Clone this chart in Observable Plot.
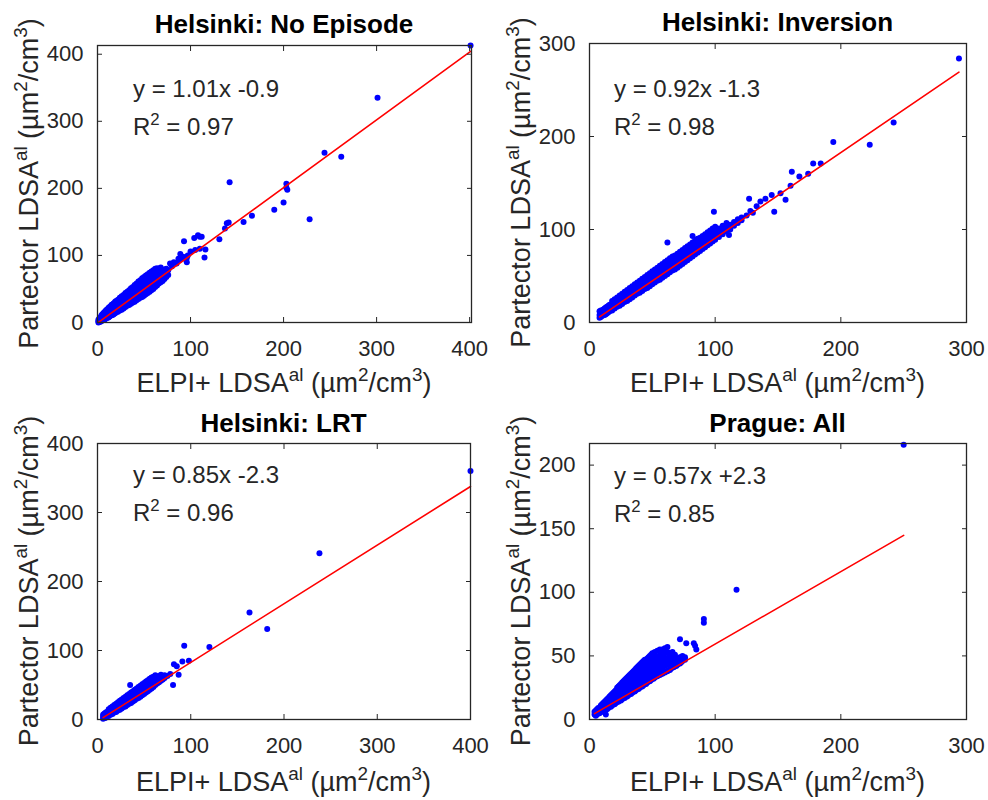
<!DOCTYPE html>
<html><head><meta charset="utf-8">
<script src="https://cdn.jsdelivr.net/npm/d3@7"></script>
<script src="https://cdn.jsdelivr.net/npm/@observablehq/plot@0.6"></script>
<style>
body{margin:0;background:#fff;}
#root{position:relative;width:988px;height:800px;background:#fff;}
.panel{position:absolute;width:494px;height:400px;}
</style></head><body><div id="root"></div>
<script>
// ---------- data ----------
const titles = ["Helsinki: No Episode", "Helsinki: Inversion", "Helsinki: LRT", "Prague: All"];
const fitLabels = ["y = 1.01x -0.9", "y = 0.92x -1.3", "y = 0.85x -2.3", "y = 0.57x +2.3"];
const r2Values = ["0.97", "0.98", "0.96", "0.85"];
const slopes = [1.01, 0.92, 0.85, 0.57];
const intercepts = [-0.9, -1.3, -2.3, 2.3];
const xDomains = [[0, 402], [0, 300], [0, 400], [0, 300]];
const yDomains = [[0, 413], [0, 300], [0, 400], [0, 217]];
const xTicks = [[0, 100, 200, 300, 400], [0, 100, 200, 300], [0, 100, 200, 300, 400], [0, 100, 200, 300]];
const yTicks = [[0, 100, 200, 300, 400], [0, 100, 200, 300], [0, 100, 200, 300, 400], [0, 50, 100, 150, 200]];
const xLabel = "ELPI+ LDSA^{al} (µm^{2}/cm^{3})";
const yLabel = "Partector LDSA^{al} (µm^{2}/cm^{3})";

// rows: [x, y1, y2, ...]  (dense cloud)
const noEpisodeCloud = [
[1,0,2,4],[2,1,3,6],[3,1,4,7],[4,2,5,8,10],[5,3,6,9,12],[6,4,7,10,13],[7,4,8,11,15],[8,5,9,12,16],
[9,6,10,14,18],[10,7,11,15,19],[11,7,12,16,20],[12,8,13,17,22],[13,9,14,18,23],[14,10,15,19,24],
[15,11,16,21,26],[16,11,17,22,27],[17,12,18,23,28],[18,13,19,24,29],[19,14,20,25,31],[20,15,21,26,32],
[21,18,24,30],[22,16,23,29,34],[23,20,27,33],[24,18,25,31,37],[25,22,29,36],[26,19,27,33,39],
[27,24,32,38],[28,21,29,35,41],[29,26,34,41],[30,23,31,37,44],[31,28,36,43],[32,25,33,39,46],
[33,30,38,46],[34,26,35,42,48],[35,32,40,48],[36,28,37,44,51],[37,34,42,50],[38,30,39,46,53],
[39,36,44,52],[40,31,41,48,56],[41,37,46,54],[42,33,43,51,58],[43,39,48,57],[44,35,45,53,61],
[45,41,50,59],[46,37,47,55,63],[47,43,52,62],[48,38,49,57,66],[49,45,55,64],[50,40,51,60,68],
[51,47,57,66],[52,42,53,62,70],[53,49,59,68],[54,44,55,64,72],[55,51,61,70],[56,46,57,66,74],
[57,53,63,72],[58,48,59,68,76],[59,55,65,74],[60,50,61,70,78],[61,57,67,76],[62,53,63,72,80],
[63,60,69,78],[64,55,65,73,81],[65,62,71],[66,58,67,75,80],[67,64,73,79],[68,60,69,77,82],
[69,66,75],[70,62,71,78],[71,68,76],[72,65,73,79],[73,70,77],[74,68,75,80],[76,71,78]
];
const noEpisodeOutliers = [
[78,88],[80,84],[82,90],[85,88],[87,95],[88,93],[89,102],[90,95],[92,98],[94,95],[96,90],[96,96],[97,100],
[100,106],[105,108],[110,110],[93,121],[104,126],[108,130],[110,128],[112,128],[116,109],[115,97],
[131,124],[137,140],[139,148],[141,149],[142,209],[157,150],[166,159],[190,168],[200,179],
[203,207],[203,201],[204,198],[228,154],[244,253],[262,247],[301,335],[401,413]
];

const inversionCloud = [
[8,5,8,12],[9,6,9,13],[10,7,10,13],[11,8,11,14],[12,8,11,15],[13,9,12,16],[14,10,13,17],[15,11,14,18],
[16,12,15,19],[18,13,16,20,23],[20,15,18,21,25],[22,17,20,23,27],[24,18,22,25,29],[26,20,23,27,31],
[28,22,25,29,33],[30,23,27,31,35],[32,25,29,33,37],[34,27,31,35,39],[36,29,33,37,41],[38,31,34,38,43],
[40,32,36,40,45],[42,34,38,42,47],[44,36,40,44,49],[46,37,42,46,51],[48,39,43,48,53],[50,41,45,50,55],
[52,43,47,52,57],[54,45,49,54,59],[56,46,51,56,61],[58,48,53,58,63],[60,50,55,60,65],[62,52,57,62,67],
[64,54,58,63,69],[66,56,60,65,71],[68,57,62,67,72],[70,59,64,69,74],[72,61,66,71,76],[74,63,68,73,78],
[76,65,70,75,80],[78,67,71,76,82],[80,69,73,78,84],[82,71,75,80,86],[84,73,77,82,88],[86,75,79,84,90],
[88,77,81,86,91],[90,79,83,88,93],[92,81,85,90,95],[94,83,87,92,97],[96,85,89,94,99],[98,87,91,96,101],
[100,89,93,98,103],[103,92,96,101],[106,95,99,104],[109,98,102,107],[112,100,105],[115,104,108],
[118,107,111],[121,110,113]
];
const inversionOutliers = [
[62,86],[82,93],[99,119],[111,94],[125,115],[128,120],[130,118],[133,125],[127,133],[136,130],
[140,133],[145,137],[147,119],[152,139],[156,132],[160,147],[161,162],[167,157],[174,160],
[178,171],[184,171],[194,194],[223,191],[242,215],[294,284]
];

const lrtCloud = [
[6,1,4,7],[7,2,5,8],[8,2,5,9],[9,3,6,10],[10,4,7,11],[12,5,8,12,15],[14,7,10,14,17],[16,8,12,16,19],
[18,10,13,17,21],[20,11,15,19,23],[22,13,17,21,25],[24,14,18,22,27],[26,16,20,24,29],[28,18,22,26,31],
[30,19,23,28,33],[32,21,25,30,35],[34,23,27,31,37],[35,50],[36,24,28,33,39],[38,26,30,35,41],
[40,28,32,37,43],[42,30,34,39,45],[44,31,36,41,47],[46,33,38,43,49],[48,35,40,45,51],[50,37,42,47,53],
[52,39,44,49,55],[54,41,46,51,57],[56,43,48,53,59],[58,45,50,55,61],[60,47,52,57,62],[62,50,54,59,64],
[64,52,56,61],[66,54,58,63],[68,56,60,65],[70,58,62],[72,60,64]
];
const lrtOutliers = [
[75,63],[78,66],[81,50],[87,65],[82,80],[85,77],[91,84],[98,85],[93,107],[120,105],
[163,155],[182,131],[238,241],[400,360]
];

const pragueCloud = [
[4,4,6],[5,3,5,7],[6,4,6,8],[7,5,7,9],[8,5,7,9],[9,6,8,10,11],[10,6,8,10,12],[11,7,9,11,13],[12,7,9,11,14],
[13,4,8,10,12,15],[14,8,10,13,16],[15,9,11,14,17],[16,10,12,15,18],[17,10,13,16,19],[18,11,14,17,20],
[19,12,15,18,21],[20,12,15,18,22],[21,13,16,19,23],[22,14,17,20,23,25],[23,14,17,20,23,26],[24,15,18,21,24,27],
[25,15,18,21,25,28],[26,16,19,22,26,29],[27,17,20,23,27,30],[28,17,20,24,28,31],[29,18,21,25,29,32],[30,18,22,26,30,33],
[31,19,23,27,31,34],[32,20,24,28,32,35],[33,20,24,28,32,36],[34,21,25,29,33,37],[35,22,26,30,34,38],[36,22,27,31,35,39],
[37,23,27,31,36,40],[38,24,28,32,37,41],[39,24,29,33,38,42],[40,25,29,34,38,43],[41,26,30,35,39,44],[42,26,31,35,40,45],
[43,27,32,36,41,46],[44,28,32,37,42,47],[45,28,33,38,43,44],[46,29,34,38,43,48],[47,30,34,39,44,49],[48,30,35,40,45,50],
[49,31,36,41,46,51],[50,32,36,41,46,52],[51,32,37,42,47,52],[52,33,38,43,48,53],[53,34,38,44,49],[54,34,39,44,49,54],
[55,35,40,45,50],[56,35,40,45,50,55],[57,36,41,46,51],[58,36,41,46,51,55],[59,37,42,47,52],[60,37,42,47,52,56],
[61,38,43,48,53],[62,38,43,48,53,57],[63,39,44,49],[64,39,44,49,52],[65,40,45,50],[66,41,45,50,53],[67,41,46,50],
[68,42,46,51],[69,42,47],[70,43,48],[71,44,48],[72,44,49],[73,45,49],[74,46,50],[76,47,49]
];
const pragueOutliers = [
[72,63],[77,60],[83,60],[84,58],[85,55],[91,79],[91,76],[117,102],[250,216]
];

// ---------- build ----------
function rowsToPoints(rows) {
  const out = [];
  for (const r of rows) for (let k = 1; k < r.length; k++) out.push({x: r[0], y: r[k]});
  return out;
}
const pointSets = [
  rowsToPoints(noEpisodeCloud).concat(noEpisodeOutliers.map(([x, y]) => ({x, y}))),
  rowsToPoints(inversionCloud).concat(inversionOutliers.map(([x, y]) => ({x, y}))),
  rowsToPoints(lrtCloud).concat(lrtOutliers.map(([x, y]) => ({x, y}))),
  rowsToPoints(pragueCloud).concat(pragueOutliers.map(([x, y]) => ({x, y})))
];

const layouts = [
  {left: 0,   top: 0,   mt: 45, mb: 78, ml: 97, mr: 23, tdx: 36, tdy: 52, xlab: 70, tit: 12},
  {left: 494, top: 0,   mt: 43, mb: 78, ml: 95, mr: 22, tdx: 25, tdy: 54, xlab: 70, tit: 12},
  {left: 0,   top: 400, mt: 43, mb: 81, ml: 97, mr: 24, tdx: 36, tdy: 40, xlab: 72, tit: 11},
  {left: 494, top: 400, mt: 43, mb: 81, ml: 95, mr: 22, tdx: 25, tdy: 41, xlab: 72, tit: 11}
];

const FONT = "'Liberation Sans', Arial, Helvetica, sans-serif";

function parseRich(s) {
  const segs = [];
  const re = /\^\{([^}]*)\}/g;
  let last = 0, m;
  while ((m = re.exec(s))) {
    if (m.index > last) segs.push({t: s.slice(last, m.index), sup: false});
    segs.push({t: m[1], sup: true});
    last = re.lastIndex;
  }
  if (last < s.length) segs.push({t: s.slice(last), sup: false});
  return segs;
}
function richText(parent, str, size, attrs) {
  const t = parent.append("text").attr("font-size", size).attr("font-family", FONT).attr("text-anchor", "start");
  for (const [k, v] of Object.entries(attrs)) t.attr(k, v);
  let raised = false;
  const shift = size * 0.42;
  for (const s of parseRich(str)) {
    const sp = t.append("tspan").text(s.t);
    if (s.sup) {
      sp.attr("font-size", size * 0.7);
      if (!raised) { sp.attr("dy", -shift); raised = true; }
    } else if (raised) { sp.attr("dy", shift); raised = false; }
  }
  return t;
}

const root = document.getElementById("root");
layouts.forEach((L, i) => {
  const pts = pointSets[i];
  const ext = d3.extent(pts, d => d.x);
  const fit = ext.map(x => ({x, y: slopes[i] * x + intercepts[i]}));
  const plot = Plot.plot({
    width: 494, height: 400,
    marginTop: L.mt, marginBottom: L.mb, marginLeft: L.ml, marginRight: L.mr,
    style: {fontFamily: FONT, fontSize: "22px", color: "#262626", background: "transparent", overflow: "visible"},
    x: {domain: xDomains[i]},
    y: {domain: yDomains[i]},
    marks: [
      Plot.dot(pts, {x: "x", y: "y", r: 3, fill: "#0000ff", stroke: "none"}),
      Plot.line(fit, {x: "x", y: "y", stroke: "#ff0000", strokeWidth: 1.6}),
      Plot.frame({stroke: "#262626", strokeWidth: 1.3}),
      Plot.axisX({ticks: xTicks[i], anchor: "bottom", tickSize: 0, tickPadding: 18, label: null, fontSize: 22}),
      Plot.axisX({ticks: xTicks[i], anchor: "bottom", tickSize: -5, tickFormat: () => "", label: null, stroke: "#262626"}),
      Plot.axisX({ticks: xTicks[i], anchor: "top", tickSize: -5, tickFormat: () => "", label: null, stroke: "#262626"}),
      Plot.axisY({ticks: yTicks[i], anchor: "left", tickSize: 0, tickPadding: 14, label: null, fontSize: 22}),
      Plot.axisY({ticks: yTicks[i], anchor: "left", tickSize: -5, tickFormat: () => "", label: null, stroke: "#262626"}),
      Plot.axisY({ticks: yTicks[i], anchor: "right", tickSize: -5, tickFormat: () => "", label: null, stroke: "#262626"})
    ]
  });
  const div = document.createElement("div");
  div.className = "panel";
  div.style.left = L.left + "px";
  div.style.top = L.top + "px";
  div.appendChild(plot);
  root.appendChild(div);

  const svg = d3.select(plot);
  const fx0 = L.ml, fx1 = 494 - L.mr, fy0 = L.mt, fy1 = 400 - L.mb;
  const cx = (fx0 + fx1) / 2, cy = (fy0 + fy1) / 2;
  const g = svg.append("g");
  // title
  g.append("text").attr("x", cx).attr("y", fy0 - L.tit).attr("text-anchor", "middle")
    .attr("font-family", FONT).attr("font-size", 26).attr("font-weight", "bold").attr("fill", "#000")
    .text(titles[i]);
  // fit annotations
  richText(g, fitLabels[i], 24, {x: fx0 + L.tdx, y: fy0 + L.tdy, fill: "#262626"});
  richText(g, "R^{2} = " + r2Values[i], 24, {x: fx0 + L.tdx, y: fy0 + L.tdy + 38, fill: "#262626"});
  // axis labels
  richText(g, xLabel, 27, {x: cx, y: fy1 + L.xlab, "text-anchor": "middle", fill: "#262626"});
  richText(g, yLabel, 27, {transform: `translate(${fx0 - 59},${cy}) rotate(-90)`, "text-anchor": "middle", fill: "#262626"});
});
</script>
</body></html>
